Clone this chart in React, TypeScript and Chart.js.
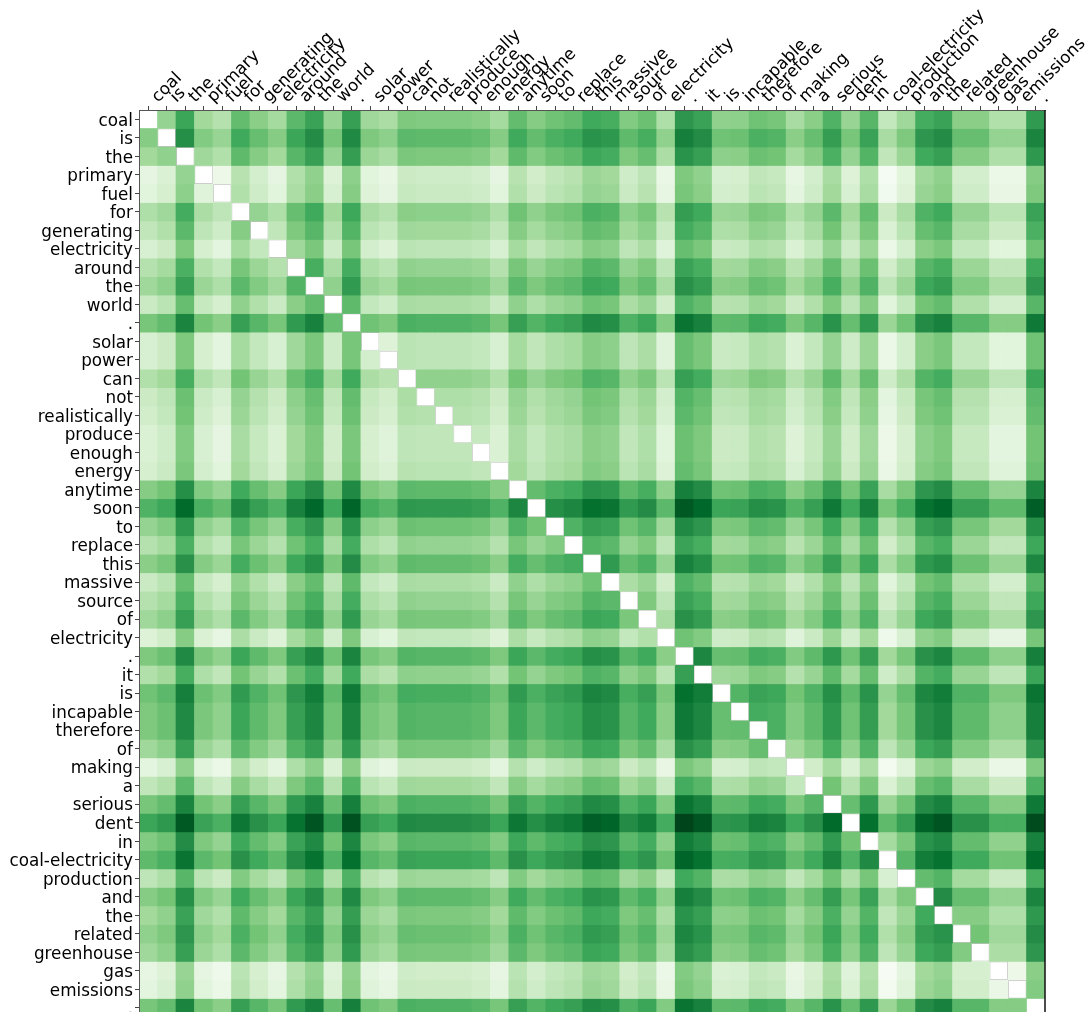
import React, { useEffect, useRef } from "react";
import Chart from "chart.js/auto";

const tokens = ["coal","is","the","primary","fuel","for","generating","electricity","around","the","world",".","solar","power","can","not","realistically","produce","enough","energy","anytime","soon","to","replace","this","massive","source","of","electricity",".","it","is","incapable","therefore","of","making","a","serious","dent","in","coal-electricity","production","and","the","related","greenhouse","gas","emissions","."];

const _ = null;
// Colour-scale position (0-100) of every cell; the diagonal is blank.
const attention = [
[_,41,65,37,31,54,44,36,56,66,40,67,38,34,47,46,46,46,44,36,54,45,51,54,63,61,46,52,33,71,66,42,43,51,49,35,44,59,40,57,26,38,62,66,44,44,32,32,69],
[45,_,74,46,40,63,53,45,65,75,49,76,47,43,56,55,55,55,53,45,63,54,60,63,72,70,55,61,42,80,75,51,52,60,58,44,53,68,49,66,35,47,71,75,53,53,41,41,78],
[37,42,_,38,32,55,45,37,57,67,41,68,39,35,48,47,47,47,45,37,55,46,52,55,64,62,47,53,34,72,67,43,44,52,50,36,45,60,41,58,27,39,63,67,45,45,33,33,70],
[12,17,41,_,7,30,20,12,32,42,16,43,14,10,23,22,22,22,20,12,30,21,27,30,39,37,22,28,9,47,42,18,19,27,25,11,20,35,16,33,2,14,38,42,20,20,8,8,45],
[14,19,43,15,_,32,22,14,34,44,18,45,16,12,25,24,24,24,22,14,32,23,29,32,41,39,24,30,11,49,44,20,21,29,27,13,22,37,18,35,4,16,40,44,22,22,10,10,47],
[33,38,62,34,28,_,41,33,53,63,37,64,35,31,44,43,43,43,41,33,51,42,48,51,60,58,43,49,30,68,63,39,40,48,46,32,41,56,37,54,23,35,59,63,41,41,29,29,66],
[27,32,56,28,22,45,_,27,47,57,31,58,29,25,38,37,37,37,35,27,45,36,42,45,54,52,37,43,24,62,57,33,34,42,40,26,35,50,31,48,17,29,53,57,35,35,23,23,60],
[18,23,47,19,13,36,26,_,38,48,22,49,20,16,29,28,28,28,26,18,36,27,33,36,45,43,28,34,15,53,48,24,25,33,31,17,26,41,22,39,8,20,44,48,26,26,14,14,51],
[31,36,60,32,26,49,39,31,_,61,35,62,33,29,42,41,41,41,39,31,49,40,46,49,58,56,41,47,28,66,61,37,38,46,44,30,39,54,35,52,21,33,57,61,39,39,27,27,64],
[38,43,67,39,33,56,46,38,58,_,42,69,40,36,49,48,48,48,46,38,56,47,53,56,65,63,48,54,35,73,68,44,45,53,51,37,46,61,42,59,28,40,64,68,46,46,34,34,71],
[24,29,53,25,19,42,32,24,44,54,_,55,26,22,35,34,34,34,32,24,42,33,39,42,51,49,34,40,21,59,54,30,31,39,37,23,32,47,28,45,14,26,50,54,32,32,20,20,57],
[49,54,78,50,44,67,57,49,69,79,53,_,51,47,60,59,59,59,57,49,67,58,64,67,76,74,59,65,46,84,79,55,56,64,62,48,57,72,53,70,39,51,75,79,57,57,45,45,82],
[18,23,47,19,13,36,26,18,38,48,22,49,_,16,29,28,28,28,26,18,36,27,33,36,45,43,28,34,15,53,48,24,25,33,31,17,26,41,22,39,8,20,44,48,26,26,14,14,51],
[18,23,47,19,13,36,26,18,38,48,22,49,20,_,29,28,28,28,26,18,36,27,33,36,45,43,28,34,15,53,48,24,25,33,31,17,26,41,22,39,8,20,44,48,26,26,14,14,51],
[32,37,61,33,27,50,40,32,52,62,36,63,34,30,_,42,42,42,40,32,50,41,47,50,59,57,42,48,29,67,62,38,39,47,45,31,40,55,36,53,22,34,58,62,40,40,28,28,65],
[23,28,52,24,18,41,31,23,43,53,27,54,25,21,34,_,33,33,31,23,41,32,38,41,50,48,33,39,20,58,53,29,30,38,36,22,31,46,27,44,13,25,49,53,31,31,19,19,56],
[21,26,50,22,16,39,29,21,41,51,25,52,23,19,32,31,_,31,29,21,39,30,36,39,48,46,31,37,18,56,51,27,28,36,34,20,29,44,25,42,11,23,47,51,29,29,17,17,54],
[17,22,46,18,12,35,25,17,37,47,21,48,19,15,28,27,27,_,25,17,35,26,32,35,44,42,27,33,14,52,47,23,24,32,30,16,25,40,21,38,7,19,43,47,25,25,13,13,50],
[17,22,46,18,12,35,25,17,37,47,21,48,19,15,28,27,27,27,_,17,35,26,32,35,44,42,27,33,14,52,47,23,24,32,30,16,25,40,21,38,7,19,43,47,25,25,13,13,50],
[19,24,48,20,14,37,27,19,39,49,23,50,21,17,30,29,29,29,27,_,37,28,34,37,46,44,29,35,16,54,49,25,26,34,32,18,27,42,23,40,9,21,45,49,27,27,15,15,52],
[45,50,74,46,40,63,53,45,65,75,49,76,47,43,56,55,55,55,53,45,_,54,60,63,72,70,55,61,42,80,75,51,52,60,58,44,53,68,49,66,35,47,71,75,53,53,41,41,78],
[59,64,88,60,54,77,67,59,79,89,63,90,61,57,70,69,69,69,67,59,77,_,74,77,86,84,69,75,56,94,89,65,66,74,72,58,67,82,63,80,49,61,85,89,67,67,55,55,92],
[41,46,70,42,36,59,49,41,61,71,45,72,43,39,52,51,51,51,49,41,59,50,_,59,68,66,51,57,38,76,71,47,48,56,54,40,49,64,45,62,31,43,67,71,49,49,37,37,74],
[31,36,60,32,26,49,39,31,51,61,35,62,33,29,42,41,41,41,39,31,49,40,46,_,58,56,41,47,28,66,61,37,38,46,44,30,39,54,35,52,21,33,57,61,39,39,27,27,64],
[44,49,73,45,39,62,52,44,64,74,48,75,46,42,55,54,54,54,52,44,62,53,59,62,_,69,54,60,41,79,74,50,51,59,57,43,52,67,48,65,34,46,70,74,52,52,40,40,77],
[24,29,53,25,19,42,32,24,44,54,28,55,26,22,35,34,34,34,32,24,42,33,39,42,51,_,34,40,21,59,54,30,31,39,37,23,32,47,28,45,14,26,50,54,32,32,20,20,57],
[31,36,60,32,26,49,39,31,51,61,35,62,33,29,42,41,41,41,39,31,49,40,46,49,58,56,_,47,28,66,61,37,38,46,44,30,39,54,35,52,21,33,57,61,39,39,27,27,64],
[38,43,67,39,33,56,46,38,58,68,42,69,40,36,49,48,48,48,46,38,56,47,53,56,65,63,48,_,35,73,68,44,45,53,51,37,46,61,42,59,28,40,64,68,46,46,34,34,71],
[16,21,45,17,11,34,24,16,36,46,20,47,18,14,27,26,26,26,24,16,34,25,31,34,43,41,26,32,_,51,46,22,23,31,29,15,24,39,20,37,6,18,42,46,24,24,12,12,49],
[47,52,76,48,42,65,55,47,67,77,51,78,49,45,58,57,57,57,55,47,65,56,62,65,74,72,57,63,44,_,77,53,54,62,60,46,55,70,51,68,37,49,73,77,55,55,43,43,80],
[32,37,61,33,27,50,40,32,52,62,36,63,34,30,43,42,42,42,40,32,50,41,47,50,59,57,42,48,29,67,_,38,39,47,45,31,40,55,36,53,22,34,58,62,40,40,28,28,65],
[51,56,80,52,46,69,59,51,71,81,55,82,53,49,62,61,61,61,59,51,69,60,66,69,78,76,61,67,48,86,81,_,58,66,64,50,59,74,55,72,41,53,77,81,59,59,47,47,84],
[47,52,76,48,42,65,55,47,67,77,51,78,49,45,58,57,57,57,55,47,65,56,62,65,74,72,57,63,44,82,77,53,_,62,60,46,55,70,51,68,37,49,73,77,55,55,43,43,80],
[47,52,76,48,42,65,55,47,67,77,51,78,49,45,58,57,57,57,55,47,65,56,62,65,74,72,57,63,44,82,77,53,54,_,60,46,55,70,51,68,37,49,73,77,55,55,43,43,80],
[38,43,67,39,33,56,46,38,58,68,42,69,40,36,49,48,48,48,46,38,56,47,53,56,65,63,48,54,35,73,68,44,45,53,_,37,46,61,42,59,28,40,64,68,46,46,34,34,71],
[13,18,42,14,8,31,21,13,33,43,17,44,15,11,24,23,23,23,21,13,31,22,28,31,40,38,23,29,10,48,43,19,20,28,26,_,21,36,17,34,3,15,39,43,21,21,9,9,46],
[27,32,56,28,22,45,35,27,47,57,31,58,29,25,38,37,37,37,35,27,45,36,42,45,54,52,37,43,24,62,57,33,34,42,40,26,_,50,31,48,17,29,53,57,35,35,23,23,60],
[49,54,78,50,44,67,57,49,69,79,53,80,51,47,60,59,59,59,57,49,67,58,64,67,76,74,59,65,46,84,79,55,56,64,62,48,57,_,53,70,39,51,75,79,57,57,45,45,82],
[65,70,94,66,60,83,73,65,85,95,69,96,67,63,76,75,75,75,73,65,83,74,80,83,92,90,75,81,62,100,95,71,72,80,78,64,73,88,_,86,55,67,91,95,73,73,61,61,98],
[46,51,75,47,41,64,54,46,66,76,50,77,48,44,57,56,56,56,54,46,64,55,61,64,73,71,56,62,43,81,76,52,53,61,59,45,54,69,50,_,36,48,72,76,54,54,42,42,79],
[55,60,84,56,50,73,63,55,75,85,59,86,57,53,66,65,65,65,63,55,73,64,70,73,82,80,65,71,52,90,85,61,62,70,68,54,63,78,59,76,_,57,81,85,63,63,51,51,88],
[28,33,57,29,23,46,36,28,48,58,32,59,30,26,39,38,38,38,36,28,46,37,43,46,55,53,38,44,25,63,58,34,35,43,41,27,36,51,32,49,18,_,54,58,36,36,24,24,61],
[45,50,74,46,40,63,53,45,65,75,49,76,47,43,56,55,55,55,53,45,63,54,60,63,72,70,55,61,42,80,75,51,52,60,58,44,53,68,49,66,35,47,_,75,53,53,41,41,78],
[37,42,66,38,32,55,45,37,57,67,41,68,39,35,48,47,47,47,45,37,55,46,52,55,64,62,47,53,34,72,67,43,44,52,50,36,45,60,41,58,27,39,63,_,45,45,33,33,70],
[42,47,71,43,37,60,50,42,62,72,46,73,44,40,53,52,52,52,50,42,60,51,57,60,69,67,52,58,39,77,72,48,49,57,55,41,50,65,46,63,32,44,68,72,_,50,38,38,75],
[38,43,67,39,33,56,46,38,58,68,42,69,40,36,49,48,48,48,46,38,56,47,53,56,65,63,48,54,35,73,68,44,45,53,51,37,46,61,42,59,28,40,64,68,46,_,34,34,71],
[11,16,40,12,6,29,19,11,31,41,15,42,13,9,22,21,21,21,19,11,29,20,26,29,38,36,21,27,8,46,41,17,18,26,24,10,19,34,15,32,1,13,37,41,19,19,_,7,44],
[13,18,42,14,8,31,21,13,33,43,17,44,15,11,24,23,23,23,21,13,31,22,28,31,40,38,23,29,10,48,43,19,20,28,26,12,21,36,17,34,3,15,39,43,21,21,9,_,46],
[49,54,78,50,44,67,57,49,69,79,53,80,51,47,60,59,59,59,57,49,67,58,64,67,76,74,59,65,46,84,79,55,56,64,62,48,57,72,53,70,39,51,75,79,57,57,45,45,_],
];

const greens = [[247,252,245],[229,245,224],[199,233,192],[161,217,155],[116,196,118],[65,171,93],[35,139,69],[0,109,44],[0,68,27]];

function colour(v: number | null) {
  if (v === null) return "#ffffff";
  const p = (Math.min(100, Math.max(0, v)) / 100) * (greens.length - 1);
  const k = Math.min(greens.length - 2, Math.floor(p));
  const f = p - k;
  const c = greens[k].map((a, n) => Math.round(a + (greens[k + 1][n] - a) * f));
  return `rgb(${c[0]},${c[1]},${c[2]})`;
}

const rightSpine = {
  id: "rightSpine",
  afterDraw(chart: any) {
    const { ctx, chartArea } = chart;
    ctx.save();
    ctx.strokeStyle = "#111111";
    ctx.lineWidth = 1.5;
    ctx.beginPath();
    ctx.moveTo(chartArea.right, chartArea.top);
    ctx.lineTo(chartArea.right, chartArea.bottom);
    ctx.stroke();
    ctx.restore();
  },
};

export default function App() {
  const ref = useRef<HTMLCanvasElement>(null);
  useEffect(() => {
    const last = tokens.length - 1;
    const cellDatasets: any[] = attention.map((row, r) => ({
      data: row.map((v) => (v === null ? null : [r, r + 1])),
      backgroundColor: row.map(colour),
      borderWidth: 0,
      barPercentage: 1,
      categoryPercentage: 1,
      grouped: false,
    }));
    const blankDataset: any = {
      data: tokens.map((_t, i) => [i, i + 1]),
      backgroundColor: "#ffffff",
      borderColor: tokens.map((_t, i) => (i === 0 || i === last ? "#ffffff" : "#c2c2c2")),
      borderWidth: 1,
      borderSkipped: false,
      inflateAmount: 0,
      barPercentage: 1,
      categoryPercentage: 1,
      grouped: false,
    };
    const font = { family: "'DejaVu Sans'", size: 16.8 };
    const chart = new Chart(ref.current!, {
      type: "bar",
      data: { labels: tokens, datasets: [...cellDatasets, blankDataset] },
      plugins: [rightSpine],
      options: {
        animation: false,
        responsive: false,
        devicePixelRatio: 1,
        layout: { padding: { left: 0, right: 40, top: 0, bottom: 0 } },
        plugins: { legend: { display: false }, tooltip: { enabled: false } },
        scales: {
          x: {
            type: "category",
            position: "top",
            offset: true,
            z: 1,
            grid: { offset: false, drawOnChartArea: false, drawTicks: true, tickLength: 4, color: "#444444", z: 1 },
            border: { display: true, color: "#555555", width: 1, z: 1 },
            ticks: { autoSkip: false, minRotation: 45, maxRotation: 45, padding: -1, labelOffset: 21, color: "#000000", font },
            afterFit(axis: any) {
              axis.height = 110;
              axis.paddingLeft = 0;
              axis.paddingRight = 0;
            },
          },
          y: {
            type: "linear",
            min: 0,
            max: tokens.length,
            reverse: true,
            z: 1,
            grid: { drawOnChartArea: false, drawTicks: true, tickLength: 4, color: "#444444", z: 1 },
            border: { display: true, color: "#555555", width: 1, z: 1 },
            afterBuildTicks(axis: any) {
              axis.ticks = tokens.map((_t, i) => ({ value: i + 0.5 }));
            },
            ticks: {
              autoSkip: false,
              padding: 2,
              labelOffset: 2,
              color: "#000000",
              font,
              callback: (_v: any, i: number) => tokens[i],
            },
            afterFit(axis: any) {
              axis.width = 139;
              axis.paddingTop = 0;
              axis.paddingBottom = 0;
            },
          },
        },
      } as any,
    });
    return () => chart.destroy();
  }, []);
  return (
    <div style={{ position: "absolute", left: 0, top: 0, width: 1085, height: 1012, overflow: "hidden" }}>
      <canvas ref={ref} width={1085} height={1017} style={{ display: "block" }} />
    </div>
  );
}
